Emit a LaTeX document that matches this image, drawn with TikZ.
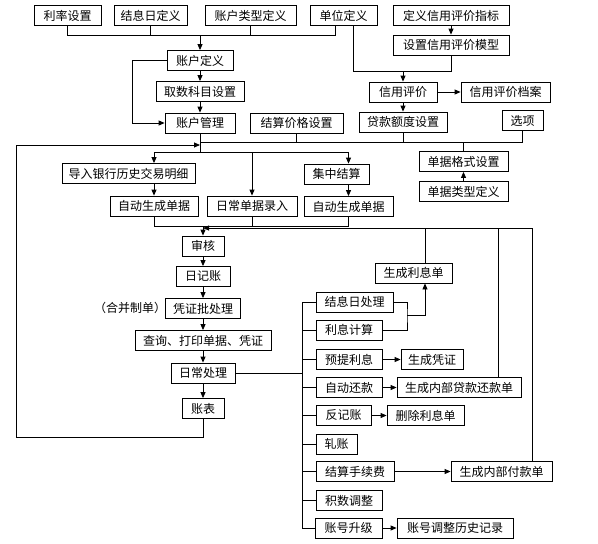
\documentclass[tikz,border=0pt]{standalone}
\usepackage{fontspec}
\newfontfamily\cjk{Noto Sans CJK SC}
\usetikzlibrary{arrows.meta}
\tikzset{
    zi/.style={inner sep=0pt, font=\cjk\fontsize{12}{14}\selectfont},
    kuang/.style={zi, draw, minimum height=20},
    jiantou/.style={-{Triangle[length=6pt,width=5pt]}},
}

\begin{document}
\begin{tikzpicture}[x=1pt, y=-1pt, line width=0.8pt]
\useasboundingbox (0,0) rectangle (598,544);
% top row
\node[kuang, minimum width=67] (lilv) at (67.5,15.5) {利率设置};
\node[kuang, minimum width=73] (jiexiri) at (150.5,15.5) {结息日定义};
\node[kuang, minimum width=91] (leixing) at (250.5,15.5) {账户类型定义};
\node[kuang, minimum width=67] (danwei) at (343.5,15.5) {单位定义};
\node[kuang, minimum width=116] (zhibiao) at (451,15.5) {定义信用评价指标};
\node[kuang, minimum width=116] (moxing) at (451,45) {设置信用评价模型};
% account column
\node[kuang, minimum width=66] (zhdy) at (200,60.5) {账户定义};
\node[kuang, minimum width=88] (qushu) at (200,91.5) {取数科目设置};
\node[kuang, minimum width=70] (zhgl) at (200,123) {账户管理};
\node[kuang, minimum width=93] (jsjg) at (296.5,123) {结算价格设置};
\node[kuang, minimum width=68] (xypj) at (403,92) {信用评价};
\node[kuang, minimum width=89] (dangan) at (505.5,92) {信用评价档案};
\node[kuang, minimum width=88] (edu) at (403,122) {贷款额度设置};
\node[kuang, minimum width=41] (xuanxiang) at (522.5,120.5) {选项};
\node[kuang, minimum width=89] (gsh) at (463.5,161.5) {单据格式设置};
\node[kuang, minimum width=89] (lx) at (463.5,191.5) {单据类型定义};
% documents
\node[kuang, minimum width=133] (daoru) at (128.5,173.5) {导入银行历史交易明细};
\node[kuang, minimum width=88] (zdsc1) at (154,206) {自动生成单据};
\node[kuang, minimum width=90] (rcld) at (252,206) {日常单据录入};
\node[kuang, minimum width=65] (jzjs) at (336.5,174) {集中结算};
\node[kuang, minimum width=89] (zdsc2) at (348.5,206.5) {自动生成单据};
% main chain
\node[kuang, minimum width=42] (shenhe) at (203,246) {审核};
\node[kuang, minimum width=54] (rjz) at (203,276.5) {日记账};
\node[kuang, minimum width=75] (pzpcl) at (203,308.5) {凭证批处理};
\node[zi] (hebing) at (130,308) {（合并制单）};
\node[kuang, minimum width=136] (chaxun) at (203,340.5) {查询、打印单据、凭证};
\node[kuang, minimum width=64] (rccl) at (203,373) {日常处理};
\node[kuang, minimum width=42] (zhangbiao) at (203,408.5) {账表};
% daily processing
\node[kuang, minimum width=77] (jxrcl) at (354.5,302) {结息日处理};
\node[kuang, minimum width=66] (lxjs) at (349,330) {利息计算};
\node[kuang, minimum width=77] (sclxd) at (413.5,273) {生成利息单};
\node[kuang, minimum width=66] (ytlx) at (349,359.5) {预提利息};
\node[kuang, minimum width=62] (scpz) at (432,359.5) {生成凭证};
\node[kuang, minimum width=66] (zdhk) at (349,387.5) {自动还款};
\node[kuang, minimum width=124] (schkd) at (459,387.5) {生成内部贷款还款单};
\node[kuang, minimum width=55] (fjz) at (343.5,415.5) {反记账};
\node[kuang, minimum width=77] (sclxdel) at (425.5,415.5) {删除利息单};
\node[kuang, minimum width=41] (zhazhang) at (336.5,444) {轧账};
\node[kuang, minimum width=78] (jssxf) at (355,471.5) {结算手续费};
\node[kuang, minimum width=101] (scfkd) at (501.5,471.5) {生成内部付款单};
\node[kuang, minimum width=66] (jstz) at (349,500.5) {积数调整};
\node[kuang, minimum width=67] (zhsj) at (348.5,528) {账号升级};
\node[kuang, minimum width=116] (tzls) at (455,528) {账号调整历史记录};

% helper points
\coordinate (hb1) at (335,35);
\coordinate (hb2) at (353,71);
\coordinate (hb3) at (200,142);
\coordinate (ru) at (200,145);
\coordinate (hb4) at (200,152);
\coordinate (hb5) at (203,226);
\coordinate (hb6) at (532,228);
\coordinate (zuo) at (16,437);
\coordinate (gan) at (302,0);
\coordinate (kuo) at (407,315);
\coordinate (zhu1) at (425,0);
\coordinate (zhu2) at (498,0);

% top part
\draw (lilv.south) |- (hb1) -- (hb1 |- danwei.south);
\draw (jiexiri.south) -- (jiexiri.south |- hb1);
\draw (leixing.south) -- (leixing.south |- hb1);
\draw[jiantou] (zhdy.north |- hb1) -- (zhdy.north);
\draw (hb2 |- danwei.south) -- (hb2) -| (moxing.south);
\draw[jiantou] (xypj.north |- hb2) -- (xypj.north);
\draw[jiantou] (zhibiao.south) -- (moxing.north);
\draw[jiantou] (xypj.east) -- (dangan.west);
\draw[jiantou] (xypj.south) -- (edu.north);
\draw[jiantou] (zhdy.south) -- (qushu.north);
\draw[jiantou] (qushu.south) -- (zhgl.north);
\draw[jiantou] (zhdy.west) -- ++(-34,0) |- (zhgl.west);
\draw (hb3) -| (xuanxiang.south);
\draw (jsjg.south) -- (jsjg.south |- hb3);
\draw (edu.south) -- (edu.south |- hb3);
\draw (gsh.north) -- (gsh.north |- hb3);
\draw[jiantou] (lx.north) -- (gsh.south);

% documents
\draw (zhgl.south) -- (hb4);
\draw (zdsc1.north |- hb4) -- (zdsc2.north |- hb4);
\draw[jiantou] (zdsc1.north |- hb4) -- (zdsc1.north |- daoru.north);
\draw[jiantou] (zdsc1.north |- daoru.south) -- (zdsc1.north);
\draw[jiantou] (rcld.north |- hb4) -- (rcld.north);
\draw[jiantou] (zdsc2.north |- hb4) -- (zdsc2.north |- jzjs.north);
\draw[jiantou] (zdsc2.north |- jzjs.south) -- (zdsc2.north);
\draw (zdsc1.south) |- (zdsc2.south |- hb5) -- (zdsc2.south);
\draw (rcld.south) -- (rcld.south |- hb5);
\draw[jiantou] (hb5) -- (shenhe.north);

% main chain
\draw[jiantou] (shenhe.south) -- (rjz.north);
\draw[jiantou] (rjz.south) -- (pzpcl.north);
\draw[jiantou] (pzpcl.south) -- (chaxun.north);
\draw[jiantou] (chaxun.south) -- (rccl.north);
\draw[jiantou] (rccl.south) -- (zhangbiao.north);
\draw[jiantou] (zhangbiao.south) |- (zuo) |- (ru);

% feedback from the right
\draw[jiantou] (hb6 |- scfkd.north) -- (hb6) -- (shenhe.north |- hb6);
\draw (zhu1 |- sclxd.north) -- (zhu1 |- hb6);
\draw (zhu2 |- schkd.north) -- (zhu2 |- hb6);

% daily processing
\draw (rccl.east) -- (gan |- rccl.east);
\draw (jxrcl.west) -| (gan |- zhsj.west) -- (zhsj.west);
\foreach \n in {lxjs, ytlx, zdhk, fjz, zhazhang, jssxf, jstz}
    \draw (gan |- \n.west) -- (\n.west);
\draw (jxrcl.east) -| (kuo) |- (lxjs.east);
\draw[jiantou] (kuo) -| (zhu1 |- sclxd.south);
\draw[jiantou] (ytlx.east) -- (scpz.west);
\draw[jiantou] (zdhk.east) -- (schkd.west);
\draw[jiantou] (fjz.east) -- (sclxdel.west);
\draw[jiantou] (jssxf.east) -- (scfkd.west);
\draw[jiantou] (zhsj.east) -- (tzls.west);
\end{tikzpicture}
\end{document}
